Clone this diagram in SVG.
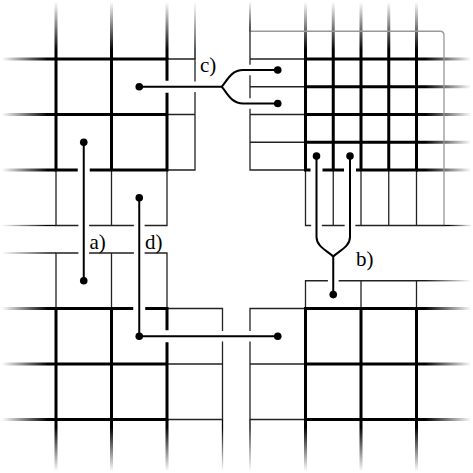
<svg xmlns="http://www.w3.org/2000/svg" width="473" height="473" viewBox="0 0 473 473">
<style>
.thick{fill:none;stroke:#000;stroke-width:3;stroke-linecap:square}
.thin{fill:none;stroke:#222;stroke-width:1.3;stroke-linecap:square}
.gray{fill:none;stroke:#999;stroke-width:1.3}
.conn{fill:none;stroke:#000;stroke-width:2}
.dot{fill:#000}
.lbl{font-family:"Liberation Serif","Times New Roman",serif;font-size:21px;fill:#000}
.fl{fill:url(#fL)}.fr{fill:url(#fR)}.fu{fill:url(#fU)}.fd{fill:url(#fD)}
</style>
<defs>
<linearGradient id="fL" x1="0" y1="0" x2="1" y2="0"><stop offset="0.03" stop-color="#000" stop-opacity="0"/><stop offset="0.4" stop-color="#000" stop-opacity="0.45"/><stop offset="0.85" stop-color="#000" stop-opacity="1"/></linearGradient>
<linearGradient id="fR" x1="1" y1="0" x2="0" y2="0"><stop offset="0.03" stop-color="#000" stop-opacity="0"/><stop offset="0.4" stop-color="#000" stop-opacity="0.45"/><stop offset="0.85" stop-color="#000" stop-opacity="1"/></linearGradient>
<linearGradient id="fU" x1="0" y1="0" x2="0" y2="1"><stop offset="0.03" stop-color="#000" stop-opacity="0"/><stop offset="0.4" stop-color="#000" stop-opacity="0.45"/><stop offset="0.85" stop-color="#000" stop-opacity="1"/></linearGradient>
<linearGradient id="fD" x1="0" y1="1" x2="0" y2="0"><stop offset="0.03" stop-color="#000" stop-opacity="0"/><stop offset="0.4" stop-color="#000" stop-opacity="0.45"/><stop offset="0.85" stop-color="#000" stop-opacity="1"/></linearGradient>
</defs>
<rect width="473" height="473" fill="#fff"/>

<g id="grid-top-left">
<rect class="fl" x="0" y="57.5" width="56" height="3"/>
<rect class="fl" x="0" y="113" width="56" height="3"/>
<rect class="fl" x="0" y="168.5" width="56" height="3"/>
<rect class="fu" x="54.5" y="0" width="3" height="59"/>
<rect class="fu" x="110" y="0" width="3" height="59"/>
<rect class="fu" x="165.5" y="0" width="3" height="59"/>
<rect class="fl" x="0" y="224.85" width="56" height="1.3"/>
<rect class="fu" x="194.35" y="0" width="1.3" height="59"/>
<path class="thin" d="M167,59H195M167,114.5H195M167,170H195M195,59V80.75M195,92.75V170M56,170V225.5M111.5,170V225.5M167,170V225.5M56,225.5H77.75M89.75,225.5H133.25M145.25,225.5H167"/>
<path class="thick" d="M56,59H167M56,114.5H167M56,170H76.25M91.25,170H167M56,59V170M111.5,59V170M167,59V79.25M167,94.25V170"/>
</g>

<g id="grid-top-right">
<rect class="fr" x="416.5" y="57.5" width="56.5" height="3"/>
<rect class="fr" x="416.5" y="85.25" width="56.5" height="3"/>
<rect class="fr" x="416.5" y="113" width="56.5" height="3"/>
<rect class="fr" x="416.5" y="140.75" width="56.5" height="3"/>
<rect class="fr" x="416.5" y="168.5" width="56.5" height="3"/>
<rect class="fu" x="304" y="0" width="3" height="59"/>
<rect class="fu" x="331.75" y="0" width="3" height="59"/>
<rect class="fu" x="359.5" y="0" width="3" height="59"/>
<rect class="fu" x="387.25" y="0" width="3" height="59"/>
<rect class="fu" x="415" y="0" width="3" height="59"/>
<rect class="fu" x="249.35" y="0" width="1.3" height="31.25"/>
<rect class="fr" x="444" y="224.85" width="29" height="1.3"/>
<path class="gray" d="M250,31.25H440Q444,31.25 444,35.25V225.5"/>
<path class="thin" d="M250,31.25V64M250,76V97.5M250,109.5V170M250,59H305.5M250,86.75H305.5M250,114.5H305.5M250,142.25H305.5M250,170H305.5M305.5,170V225.5M333.25,170V225.5M361,170V225.5M388.75,170V225.5M416.5,170V225.5M305.5,225.5H310.5M322.5,225.5H344M356,225.5H444"/>
<path class="thick" d="M305.5,59H416.5M305.5,86.75H416.5M305.5,114.5H416.5M305.5,142.25H416.5M305.5,170H309M324,170H342.5M357.5,170H416.5M305.5,59V170M333.25,59V170M361,59V170M388.75,59V170M416.5,59V170"/>
</g>

<g id="grid-bottom-left">
<rect class="fl" x="0" y="252.35" width="56" height="1.3"/>
<rect class="fl" x="0" y="307" width="56" height="3"/>
<rect class="fl" x="0" y="362.5" width="56" height="3"/>
<rect class="fl" x="0" y="418" width="56" height="3"/>
<rect class="fd" x="54.5" y="419.5" width="3" height="53.5"/>
<rect class="fd" x="110" y="419.5" width="3" height="53.5"/>
<rect class="fd" x="165.5" y="419.5" width="3" height="53.5"/>
<rect class="fd" x="221.85" y="419.5" width="1.3" height="53.5"/>
<path class="thin" d="M56,253H77.75M89.75,253H133.25M145.25,253H167M56,253V308.5M111.5,253V308.5M167,253V308.5M167,308.5H222.5M167,364H222.5M167,419.5H222.5M222.5,308.5V330.25M222.5,342.25V419.5"/>
<path class="thick" d="M56,308.5H131.75M146.75,308.5H167M56,364H167M56,419.5H167M56,308.5V419.5M111.5,308.5V419.5M167,308.5V328.75M167,343.75V419.5"/>
</g>

<g id="grid-bottom-right">
<rect class="fr" x="416.5" y="280.1" width="56.5" height="1.3"/>
<rect class="fr" x="416.5" y="307" width="56.5" height="3"/>
<rect class="fr" x="416.5" y="362.5" width="56.5" height="3"/>
<rect class="fr" x="416.5" y="418" width="56.5" height="3"/>
<rect class="fd" x="304" y="419.5" width="3" height="53.5"/>
<rect class="fd" x="359.5" y="419.5" width="3" height="53.5"/>
<rect class="fd" x="415" y="419.5" width="3" height="53.5"/>
<rect class="fd" x="249.35" y="419.5" width="1.3" height="53.5"/>
<path class="thin" d="M305.5,280.75H327.25M339.25,280.75H416.5M305.5,280.75V308.5M361,280.75V308.5M416.5,280.75V308.5M250,308.5H305.5M250,364H305.5M250,419.5H305.5M250,308.5V330.25M250,342.25V419.5"/>
<path class="thick" d="M305.5,308.5H416.5M305.5,364H416.5M305.5,419.5H416.5M305.5,308.5V419.5M361,308.5V419.5M416.5,308.5V419.5"/>
</g>

<g id="connectors">
<g id="conn-a">
<path class="conn" d="M83.75,142.25V280.75"/>
<circle class="dot" cx="83.75" cy="142.25" r="3.8"/>
<circle class="dot" cx="83.75" cy="280.75" r="3.8"/>
</g>
<g id="conn-b">
<path class="conn" d="M316.5,156.1V237C316.5,247 328,251 333.25,256.5C338.5,251 350,247 350,237V156.1M333.25,256.5V294.6"/>
<circle class="dot" cx="316.5" cy="156.1" r="3.8"/>
<circle class="dot" cx="350" cy="156.1" r="3.8"/>
<circle class="dot" cx="333.25" cy="294.6" r="3.8"/>
</g>
<g id="conn-c">
<path class="conn" d="M139.25,86.75H221.7C227,81 231,70 243,70H277.75M221.7,86.75C227,92.5 231,103.5 243,103.5H277.75"/>
<circle class="dot" cx="139.25" cy="86.75" r="3.8"/>
<circle class="dot" cx="277.75" cy="70" r="3.8"/>
<circle class="dot" cx="277.75" cy="103.5" r="3.8"/>
</g>
<g id="conn-d">
<path class="conn" d="M139.25,197.75V336.25H277.75"/>
<circle class="dot" cx="139.25" cy="197.75" r="3.8"/>
<circle class="dot" cx="139.25" cy="336.25" r="3.8"/>
<circle class="dot" cx="277.75" cy="336.25" r="3.8"/>
</g>
</g>

<g id="labels">
<text class="lbl" x="89.5" y="248.5">a)</text>
<text class="lbl" x="356" y="265.5">b)</text>
<text class="lbl" x="200" y="72">c)</text>
<text class="lbl" x="145" y="248.5">d)</text>
</g>
</svg>
